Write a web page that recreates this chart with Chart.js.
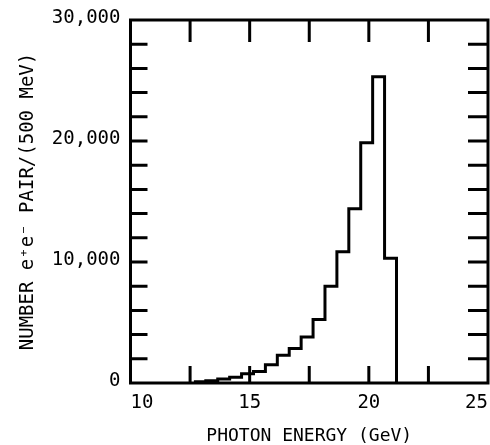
<!DOCTYPE html>
<html><head><meta charset="utf-8">
<script src="https://cdn.jsdelivr.net/npm/chart.js@4/dist/chart.umd.min.js"></script>
<style>html,body{margin:0;padding:0;background:#fff}#wrap{width:490px;height:445px}</style>
</head><body><div id="wrap"><canvas id="c" width="490" height="445"></canvas></div>
<script>
// Histogram bin edges (GeV): left edge of each bin, plus the final right edge
const binEdges = [12.66, 13.16, 13.66, 14.16, 14.66, 15.16, 15.66, 16.16, 16.66, 17.16,
                  17.66, 18.16, 18.66, 19.16, 19.66, 20.16, 20.66, 21.16];
// Number of e+e- pairs per 500 MeV bin
const counts = [100, 180, 330, 480, 760, 950, 1500, 2300, 2850, 3800,
                5250, 8000, 10850, 14400, 19850, 25300, 10300];
const xTickValues = [10, 15, 20, 25];
const yTickValues = [0, 10000, 20000, 30000];
const xMinorStep = 2.5;
const yMinorStep = 2000;

const points = counts.map((c, i) => ({x: binEdges[i], y: c}));
points.push({x: binEdges[binEdges.length - 1], y: 0});

const FONT = "'DejaVu Sans Mono', 'Liberation Mono', monospace";

const framePlugin = {
  id: 'frame',
  afterDatasetsDraw(chart) {
    const {ctx, chartArea: {left, right, top, bottom}, scales: {x, y}} = chart;
    ctx.save();
    ctx.strokeStyle = '#000';
    ctx.lineWidth = 3;
    ctx.strokeRect(left, top, right - left, bottom - top);
    ctx.beginPath();
    for (let v = x.min + xMinorStep; v < x.max - 1e-9; v += xMinorStep) {
      const px = x.getPixelForValue(v);
      ctx.moveTo(px, bottom); ctx.lineTo(px, bottom - 17);
      ctx.moveTo(px, top); ctx.lineTo(px, top + 22);
    }
    for (let v = y.min + yMinorStep; v < y.max - 1e-9; v += yMinorStep) {
      const py = y.getPixelForValue(v);
      ctx.moveTo(left, py); ctx.lineTo(left + 17, py);
      ctx.moveTo(right, py); ctx.lineTo(right - 20, py);
    }
    ctx.stroke();
    ctx.restore();
  }
};

new Chart(document.getElementById('c'), {
  type: 'line',
  data: {
    datasets: [{
      data: points,
      stepped: 'before',
      borderColor: '#000',
      borderWidth: 3,
      pointRadius: 0,
      fill: false,
      tension: 0
    }]
  },
  options: {
    responsive: false,
    animation: false,
    devicePixelRatio: 1,
    layout: {padding: {left: 0, right: 2, top: 20, bottom: 0}, autoPadding: false},
    plugins: {legend: {display: false}, tooltip: {enabled: false}},
    scales: {
      x: {
        type: 'linear', min: 10, max: 25,
        afterFit(s) { s.height = 62; s.paddingLeft = 0; s.paddingRight = 0; },
        afterBuildTicks(s) { s.ticks = xTickValues.map(v => ({value: v})); },
        grid: {display: false, drawTicks: false, tickLength: 0},
        border: {display: false},
        ticks: {color: '#000', font: {family: FONT, size: 19}, padding: 9, maxRotation: 0,
                autoSkip: false, align: 'inner'},
        title: {display: true, text: 'PHOTON ENERGY (GeV)', color: '#000',
                font: {family: FONT, size: 18, lineHeight: 1}, padding: {top: 0, bottom: 0}}
      },
      y: {
        type: 'linear', min: 0, max: 30000,
        afterFit(s) { s.width = 130.5; s.paddingTop = 0; s.paddingBottom = 0; },
        afterBuildTicks(s) { s.ticks = yTickValues.map(v => ({value: v})); },
        grid: {display: false, drawTicks: false, tickLength: 0},
        border: {display: false},
        ticks: {color: '#000', font: {family: FONT, size: 19}, padding: 10, labelOffset: -2,
                callback: v => v.toLocaleString('en-US')},
        title: {display: true, text: 'NUMBER e\u207Ae\u207B PAIR/(500 MeV)', color: '#000',
                font: {family: FONT, size: 19}, padding: {top: 17, bottom: 0}}
      }
    }
  },
  plugins: [framePlugin]
});
</script></body></html>
